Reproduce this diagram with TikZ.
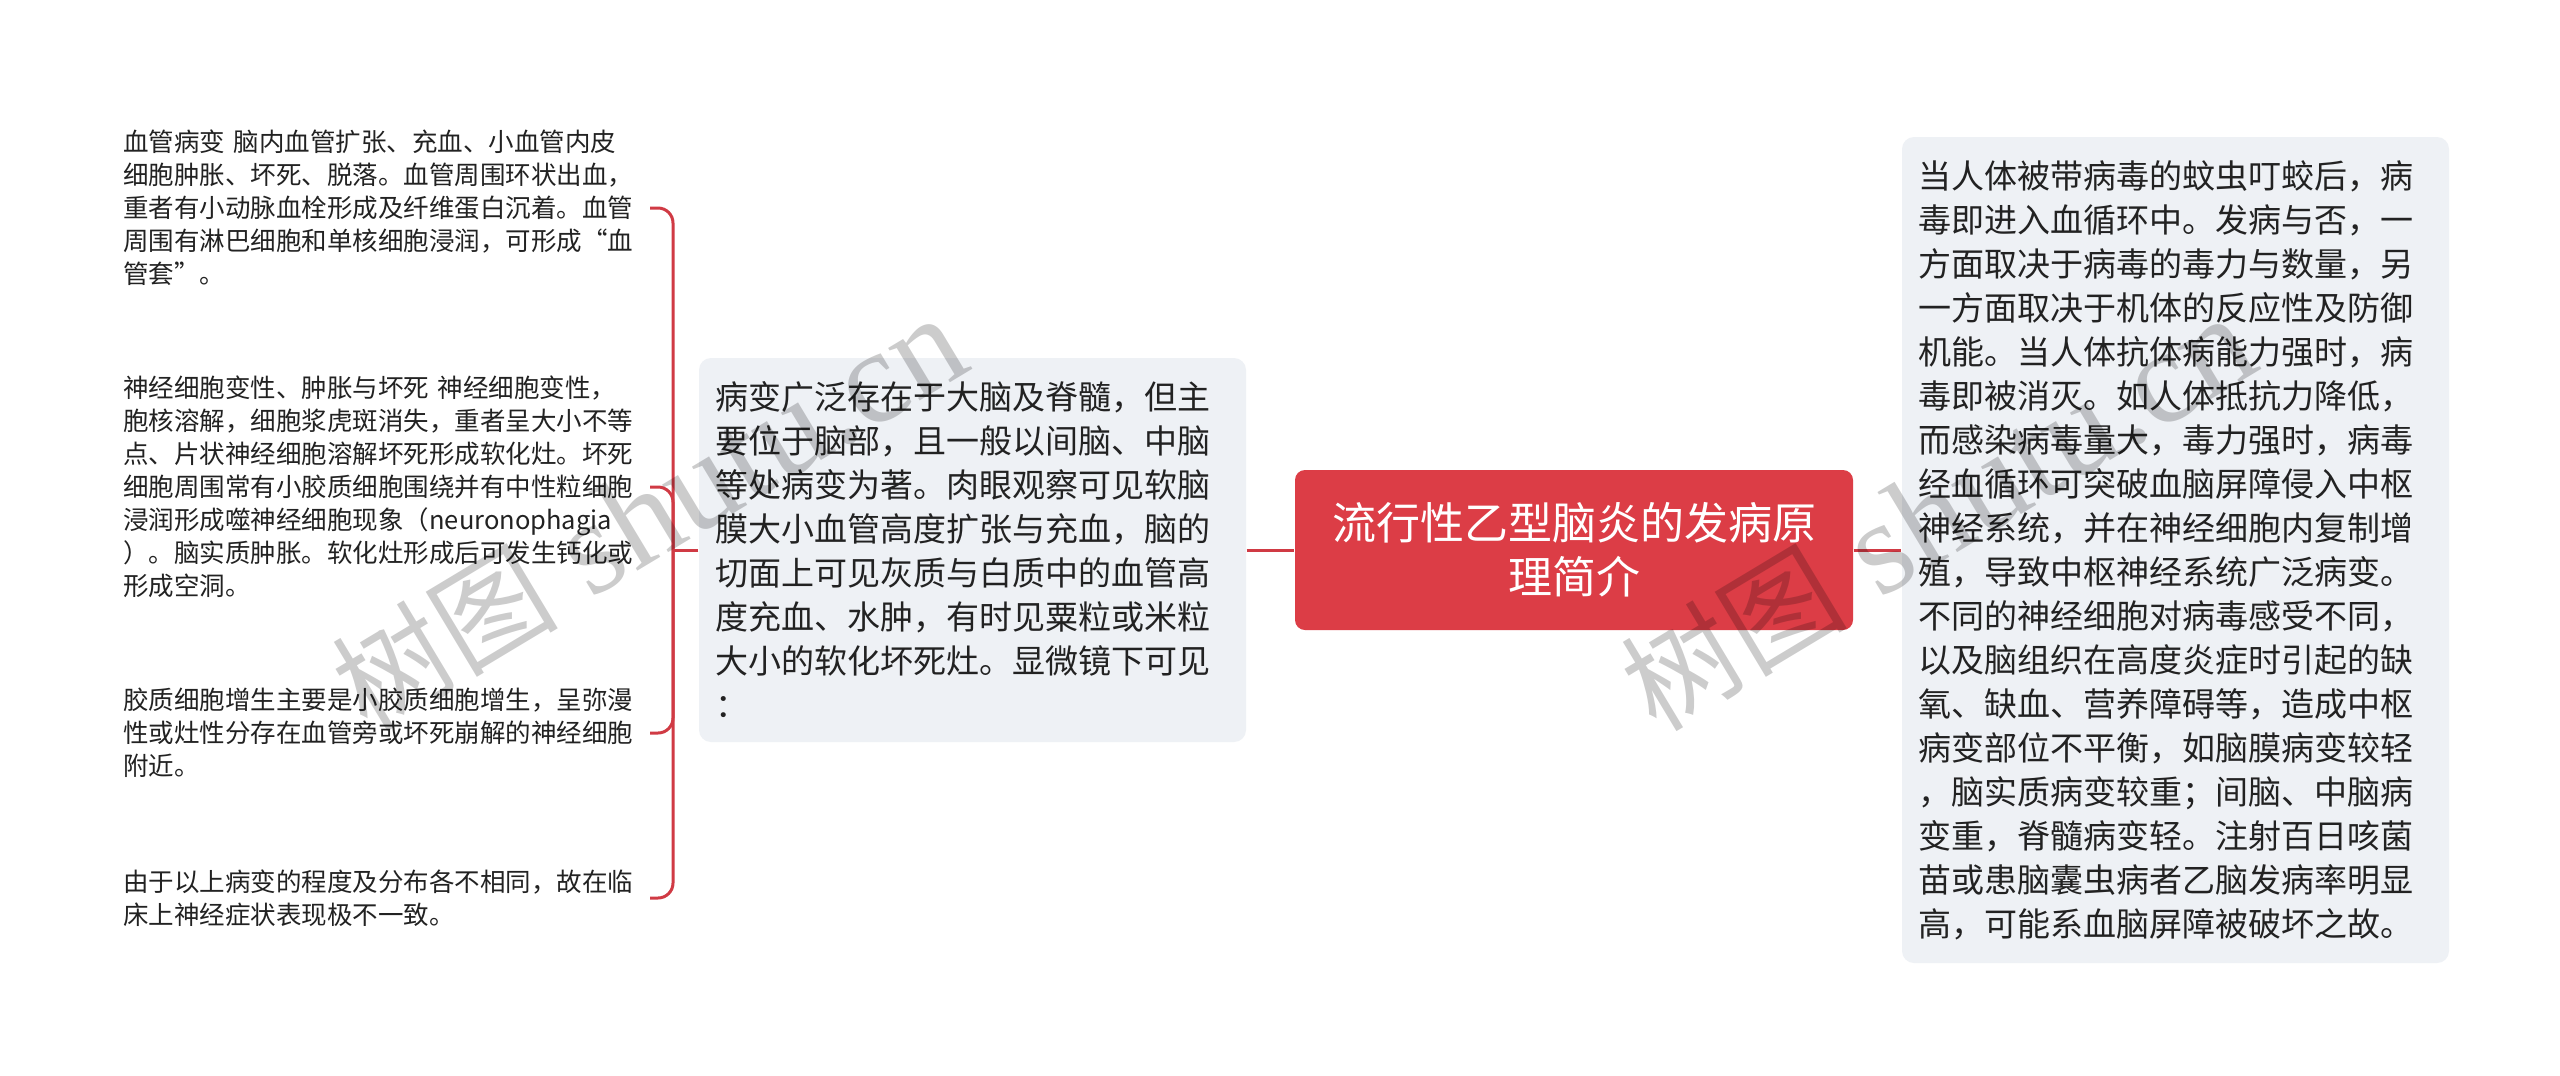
\documentclass[tikz,border=0pt]{standalone}
\usepackage{fontspec}
\setmainfont{Noto Sans CJK SC}
\newfontfamily\wmserif{Liberation Serif}
\newfontfamily\wmcjk{Noto Sans CJK SC}
\definecolor{rootred}{RGB}{220,61,70}
\definecolor{linered}{RGB}{208,58,68}
\definecolor{boxgray}{RGB}{238,241,245}
\definecolor{txt}{RGB}{34,34,34}
\begin{document}
\begin{tikzpicture}[x=0.3pt,y=-0.3pt,
  rootbox/.style={fill=rootred, draw=none, rounded corners=3pt, text=white,
    font=\fontsize{13.2pt}{16.2pt}\selectfont, align=center,
    minimum width=167.4pt, minimum height=48pt, inner sep=0pt},
  graybox/.style={fill=boxgray, draw=none, rounded corners=3.6pt, text=txt,
    font=\fontsize{9.9pt}{13.2pt}\selectfont, align=left,
    text width=154.5pt, inner xsep=4.8pt, inner ysep=0pt},
  leaf/.style={align=left, text width=157.8pt, inner sep=0pt, text=txt,
    font=\fontsize{7.65pt}{9.9pt}\selectfont, anchor=east},
  conn/.style={draw=linered, line width=0.9pt},
  bracket/.style={conn, rounded corners=4.5pt},
  watermark/.style={rotate=31, text=black, opacity=0.2, inner sep=0pt}
]
\fill[white] (0,0) rectangle (2560,1075);
\useasboundingbox (0,0) rectangle (2560,1075);

% root
\node[rootbox] (root) at (1574,550) {流行性乙型脑炎的发病原\\理简介};

% middle left box
\node[graybox, minimum height=115.2pt] (mid) at (972.5,550) {病变广泛存在于大脑及脊髓，但主\\
要位于脑部，且一般以间脑、中脑\\
等处病变为著。肉眼观察可见软脑\\
膜大小血管高度扩张与充血，脑的\\
切面上可见灰质与白质中的血管高\\
度充血、水肿，有时见粟粒或米粒\\
大小的软化坏死灶。显微镜下可见\\
：};

% right box
\node[graybox, minimum height=247.8pt] (right) at (2175.5,550) {当人体被带病毒的蚊虫叮蛟后，病\\
毒即进入血循环中。发病与否，一\\
方面取决于病毒的毒力与数量，另\\
一方面取决于机体的反应性及防御\\
机能。当人体抗体病能力强时，病\\
毒即被消灭。如人体抵抗力降低，\\
而感染病毒量大，毒力强时，病毒\\
经血循环可突破血脑屏障侵入中枢\\
神经系统，并在神经细胞内复制增\\
殖，导致中枢神经系统广泛病变。\\
不同的神经细胞对病毒感受不同，\\
以及脑组织在高度炎症时引起的缺\\
氧、缺血、营养障碍等，造成中枢\\
病变部位不平衡，如脑膜病变较轻\\
，脑实质病变较重；间脑、中脑病\\
变重，脊髓病变轻。注射百日咳菌\\
苗或患脑囊虫病者乙脑发病率明显\\
高，可能系血脑屏障被破坏之故。};

% leaves
\node[leaf] (l1) at (650,208) {血管病变 脑内血管扩张、充血、小血管内皮\\
细胞肿胀、坏死、脱落。血管周围环状出血，\\
重者有小动脉血栓形成及纤维蛋白沉着。血管\\
周围有淋巴细胞和单核细胞浸润，可形成“血\\
管套”。};
\node[leaf] (l2) at (650,487) {神经细胞变性、肿胀与坏死 神经细胞变性，\\
胞核溶解，细胞浆虎斑消失，重者呈大小不等\\
点、片状神经细胞溶解坏死形成软化灶。坏死\\
细胞周围常有小胶质细胞围绕并有中性粒细胞\\
浸润形成噬神经细胞现象（neuronophagia\\
）。脑实质肿胀。软化灶形成后可发生钙化或\\
形成空洞。};
\node[leaf] (l3) at (650,733) {胶质细胞增生主要是小胶质细胞增生，呈弥漫\\
性或灶性分存在血管旁或坏死崩解的神经细胞\\
附近。};
\node[leaf] (l4) at (650,898) {由于以上病变的程度及分布各不相同，故在临\\
床上神经症状表现极不一致。};

% connectors
\coordinate (J) at (673,550);
\draw[conn] (mid.west) -- (J);
\draw[bracket] (J) |- (l1.east);
\draw[bracket] (J) |- (l2.east);
\draw[bracket] (J) |- (l3.east);
\draw[bracket] (J) |- (l4.east);
\draw[conn] (mid.east) -- (root.west);
\draw[conn] (root.east) -- (right.west);

% watermarks
\node[watermark] (wm1) at (649,514) {\fontsize{34pt}{34pt}\selectfont\wmcjk 树图\fontsize{40pt}{40pt}\selectfont\wmserif\ shutu.cn};
\node[watermark] (wm2) at (1938,514) {\fontsize{34pt}{34pt}\selectfont\wmcjk 树图\fontsize{40pt}{40pt}\selectfont\wmserif\ shutu.cn};
\end{tikzpicture}
\end{document}
